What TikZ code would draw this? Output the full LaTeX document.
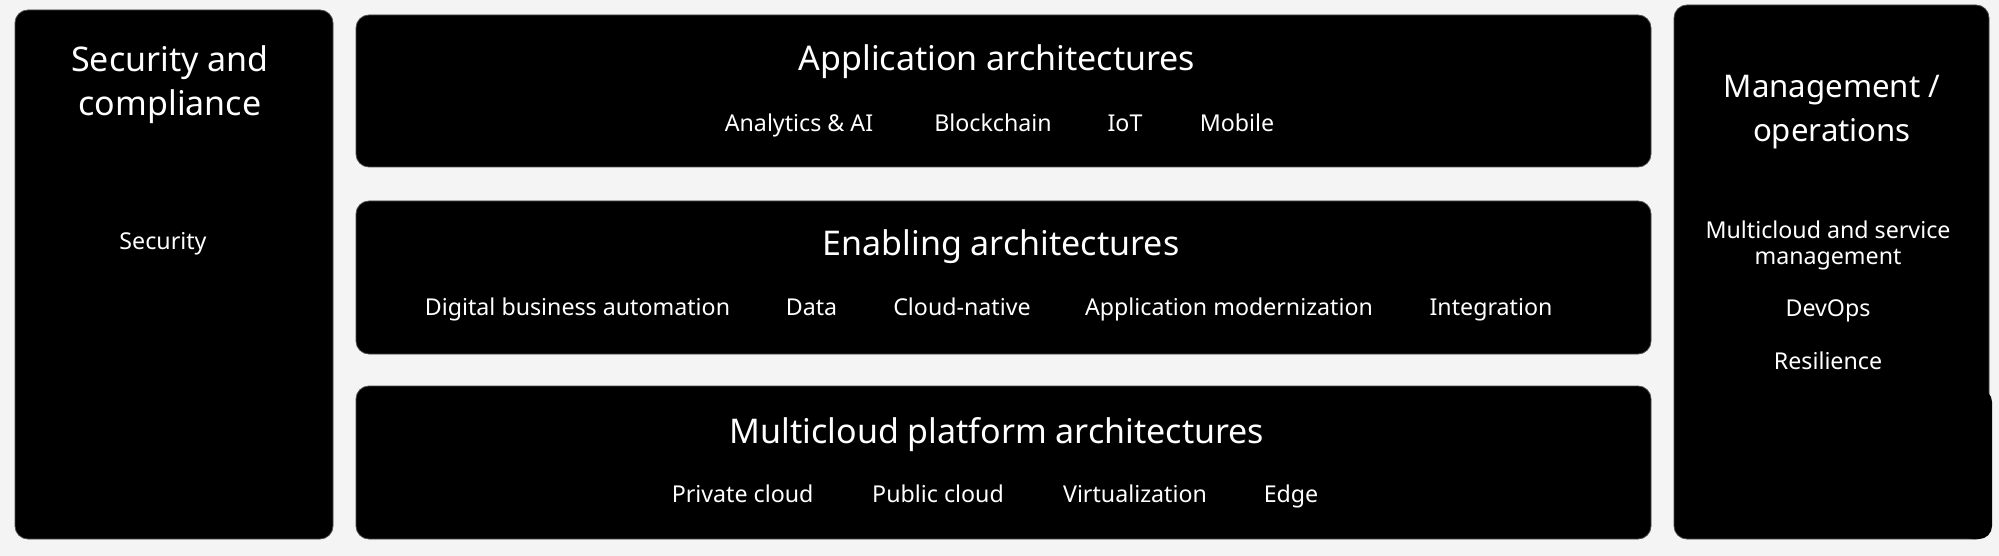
\documentclass[tikz,border=0pt]{standalone}
\usepackage{fontspec}
\setmainfont{Noto Sans}
\definecolor{bggray}{HTML}{F4F4F4}
\begin{document}
\begin{tikzpicture}[x=0.5pt,y=-0.5pt,
  panel/.style={fill=black, draw=black!70, line width=0.4pt, rounded corners=6.5pt},
  ttl/.style={text=white, align=center, font=\fontsize{17}{22}\selectfont, inner sep=0pt, text height=0.55em, text depth=0em},
  itm/.style={text=white, align=center, font=\fontsize{11.6}{13}\selectfont, inner sep=0pt, text height=0.55em, text depth=0em}]
\fill[bggray] (0,0) rectangle (1999,556);
\useasboundingbox (0,0) rectangle (1999,556);
% panels
\draw[panel] (15,10) rectangle (333,539);
\draw[panel] (356,15) rectangle (1651,167);
\draw[panel] (356,201) rectangle (1651,354);
\draw[panel] (356,386) rectangle (1651,539);
\draw[panel] (1674,5) rectangle (1989,539);
\fill[black, rounded corners=6.5pt] (1960,389) -- (1992,389) -- (1992,539) -- (1960,539) -- cycle;
% left
\node[ttl] (sectitle) at (170,110) {Security and\\compliance};
\node[itm] (security) at (163,244) {Security};
% application
\node[ttl] (apptitle) at (997,65.4) {Application architectures};
\node[itm] (analytics) at (799,126) {Analytics \& AI};
\node[itm] (blockchain) at (993,126) {Blockchain};
\node[itm] (iot) at (1125,126) {IoT};
\node[itm] (mobile) at (1237,126) {Mobile};
% enabling
\node[ttl] (enatitle) at (1001,250.4) {Enabling architectures};
\node[itm] (dba) at (577.5,310) {Digital business automation};
\node[itm] (data) at (811.5,310) {Data};
\node[itm] (cloudnative) at (962,310) {Cloud-native};
\node[itm] (appmod) at (1229,310) {Application modernization};
\node[itm] (integration) at (1491,310) {Integration};
% multicloud
\node[ttl] (multititle) at (997,437.6) {Multicloud platform architectures};
\node[itm] (private) at (742.6,497) {Private cloud};
\node[itm] (public) at (938,497) {Public cloud};
\node[itm] (virt) at (1135,497) {Virtualization};
\node[itm] (edge) at (1291,497) {Edge};
% right
\node[ttl, font=\fontsize{15.6}{22}\selectfont] (mgmttitle) at (1832,136.3) {Management /\\operations};
\node[itm] (mcsm) at (1828,259) {Multicloud and service\\management};
\node[itm] (devops) at (1828,311) {DevOps};
\node[itm] (resilience) at (1828,364) {Resilience};
\end{tikzpicture}
\end{document}
